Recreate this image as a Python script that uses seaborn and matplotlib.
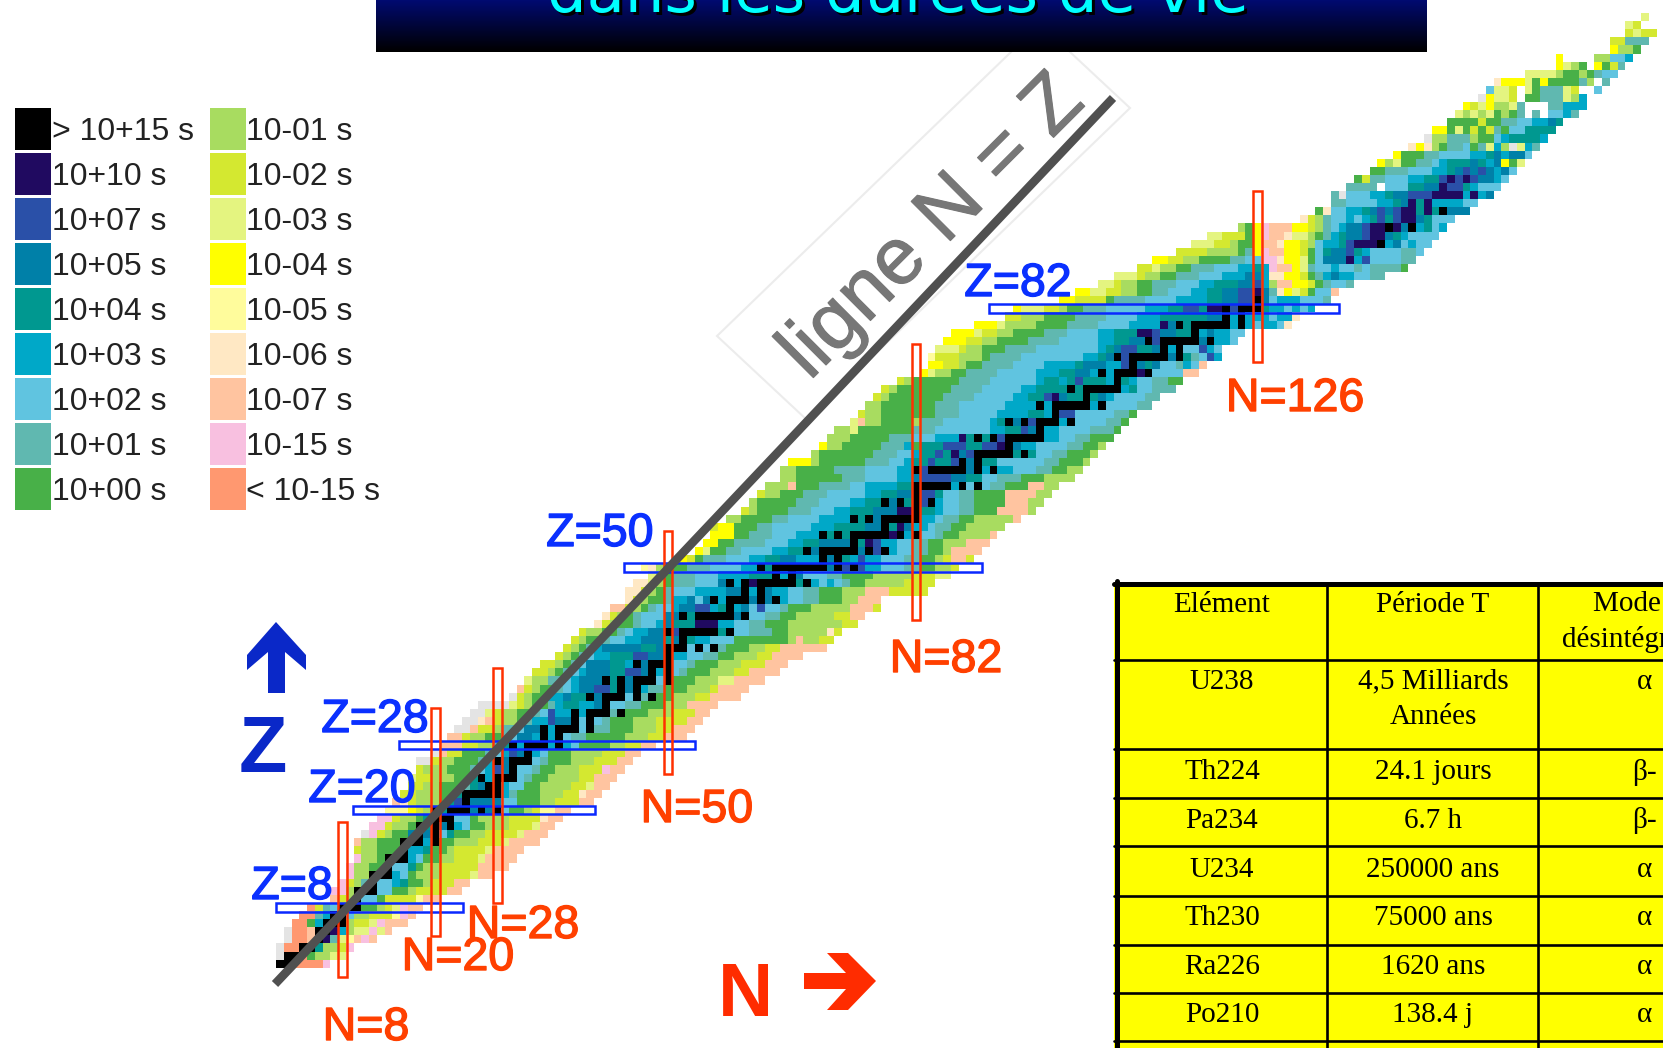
"""Chart of nuclides coloured by half-life, with the magic numbers marked."""

from __future__ import annotations

import re

import numpy as np
import pandas as pd
import seaborn as sns
from matplotlib import patheffects as pe
from matplotlib import pyplot as plt
from matplotlib.colors import LinearSegmentedColormap, ListedColormap
from matplotlib.patches import Polygon, Rectangle

plt.switch_backend("Agg")

WIDTH, HEIGHT = 1663, 1048

# one letter per half-life class, same order as the legend, s = grey (unknown)
CODES = "abcdefghijklmnopqrs"
CODE_COLORS = [
    "#000000", "#200a60", "#2a50a8", "#0080a8", "#009890", "#00a8c8",
    "#60c4e0", "#60b8b0", "#48b048", "#a8dc60", "#d4e830", "#e4f480",
    "#ffff00", "#fffc9c", "#ffe8c4", "#ffc4a0", "#f8c0e0", "#ff9870",
    "#e4e4e4",
]
LEGEND_LEFT = ["> 10+15 s", "10+10 s", "10+07 s", "10+05 s", "10+04 s",
               "10+03 s", "10+02 s", "10+01 s", "10+00 s"]
LEGEND_RIGHT = ["10-01 s", "10-02 s", "10-03 s", "10-04 s", "10-05 s",
                "10-06 s", "10-07 s", "10-15 s", "< 10-15 s"]

# Row for Z = 1, 2, ...: first N of the row, then class + last N of each run.
ROW_BANDS = [
    "0 a1 r5 q6",
    "0 s0 a2 r3 i4 j6 l8",
    "0 s0 r2 a4 e5 j7 k8 q9",
    "1 s1 r3 p4 b6 h7 l8 n9 p10 q11 p12",
    "1 s1 r3 p4 h5 e6 b7 f8 j9 l11 q12 l13 p14",
    "2 r3 i4 f5 e6 i7 b8 j9 k11 l12 q13 p16",
    "3 r4 h5 f6 d7 e8 g9 j11 k14 n15 q16 p17",
    "4 r4 k5 h6 g7 d8 e9 i12 j13 k14 l15 q16 p18",
    "7 p7 k8 j9 g12 i13 k17 n18 p20",
    "7 q8 j9 g14 i16 j17 k21 p23",
    "8 q8 k9 j10 h11 g14 f15 e16 i18 j19 k22 p24",
    "9 q9 j11 i12 f15 g16 i17 j20 k24 l25 p27",
    "9 q9 j11 i13 d14 g16 e17 i18 j20 k25 p29",
    "10 q10 j12 i14 f17 g18 i20 j22 k25 l26 p30",
    "10 k10 j12 i15 f18 e19 i21 j22 k26 l27 p31",
    "10 p10 j12 i15 d17 f19 g20 i22 j25 k28 l29 p33",
    "11 s11 q12 k13 j14 i16 d19 g21 e22 i24 j26 k30 l31 p34",
    "12 q13 k14 j16 i17 e19 d21 f23 g24 i26 j29 k32 l33 p35",
    "13 q14 k15 j17 i18 e19 c20 d21 f22 g24 i25 j29 k33 o34 p36",
    "14 n16 m17 k18 j19 e21 d28 g29 i31 j32 k33 n35 p37",
    "15 p15 o16 k17 j20 i21 e22 c23 d28 g30 i33 j35 k38 p40",
    "16 k17 j20 i22 e23 d24 f29 h30 i33 j36 k38 o39 p41",
    "17 k18 j20 i23 h24 e25 d26 c27 f29 g31 i33 j37 k39 l40 p42",
    "17 l17 k19 j22 i24 e25 c26 f27 d29 g31 h32 i34 j38 k40 p43",
    "18 k18 j21 i24 h25 g26 f27 c28 d29 g32 h33 i35 j38 k41 q42 p44",
    "18 s19 k20 j22 i25 h26 f27 c28 d29 e31 g33 h34 i37 j40 k43 p45",
    "20 s20 p21 k23 i26 h27 g28 f29 c30 d32 f33 g34 i37 j41 k44 p46",
    "21 p23 k25 j27 h28 e29 d30 f37 g38 i42 j44 k46 p48",
    "22 p23 k24 j26 i28 h29 g30 d32 f35 d36 g37 h39 i44 j47 k49 p52",
    "23 s24 p25 k27 j28 h30 g31 d33 f35 e38 g40 h42 i45 j48 k50 p53",
    "24 s25 o26 p27 k28 j30 i31 h32 f34 c35 d37 f38 g41 h42 i45 j48 k52 p54",
    "25 s26 l27 k28 j30 i32 h33 g34 c35 f37 d38 f40 g42 h44 i47 j50 k53 p55",
    "26 s29 l30 k31 j32 i34 h35 f36 e38 f40 d42 g44 h46 i49 j52 p56",
    "30 s30 k31 j32 i34 f36 d37 e39 d43 f44 g45 h47 i50 j53 k55 p59",
    "31 p31 k32 j33 i35 h36 g37 f38 d40 c42 e43 d45 f47 h49 i52 j55 k56 p60",
    "32 l32 j34 h36 g37 f38 d41 c42 e44 d46 f47 g49 h50 i53 j56 l58 p62",
    "33 k34 j35 i36 h37 g38 f39 d42 e44 c46 d47 f50 g51 h52 i55 j58 k60 p64",
    "34 k35 j36 i37 h38 g39 d42 e44 f46 d48 f50 g52 h53 i56 j59 k62 p65",
    "36 k36 j37 i38 h39 g40 f42 e45 c47 d49 e50 f52 g54 h56 i58 j61 k63 p67",
    "37 k37 j38 i39 h40 f41 d46 e48 d50 f52 g55 h57 i60 j62 k64 p70",
    "38 k38 j39 i41 h42 g44 f46 d49 e50 d51 b52 e53 f55 g58 i65 j66 p67 j69 k71",
    "39 k39 j41 i43 h44 g45 f47 d50 c51 d52 e57 f58 g60 h63 i65 j70 o71 k72",
    "41 o41 k42 j43 i45 h46 g48 f49 d50 e53 b56 f58 g60 h62 i65 j72 k74",
    "42 o42 k43 j44 i45 h46 g49 d51 e54 f57 d59 f60 g62 h64 i66 j71 k73 p75",
    "43 p44 k45 j46 i47 h48 g50 f51 d53 c55 f56 e57 f59 d60 g61 c62 g64 h65 i68 j73 p76 k77",
    "45 o45 k46 j47 i49 h50 f52 d53 g54 d56 f57 f59 e60 d64 f65 g67 h69 i72 j74 p77",
    "45 o46 k47 j48 i49 h50 g53 f57 d59 e60 f62 d63 f65 g67 h69 i72 j75 p78 k83",
    "46 o47 l48 j49 i50 h53 g56 d57 f59 e60 b61 f63 e67 f69 g70 f71 g72 h73 i75 j80 k84",
    "48 l48 j49 i50 h53 g56 f60 e63 f65 d67 g70 h72 i76 j81 k84 l86",
    "47 n47 o48 j49 i52 h55 g59 f61 e63 f65 d71 c75 f77 g80 h82 i84 j86 k87",
    "52 m52 k53 i54 h57 g60 f62 e64 d66 f69 c70 d71 e73 f74 c75 f77 g80 h82 i84 j85 k86 p88 k89",
    "54 m54 l55 i57 h59 g63 f65 e67 d70 f73 d75 c77 f79 g81 h83 i85 j86 p90",
    "55 m56 i58 h62 g65 f67 e69 d73 e75 b76 c77 f79 g81 h83 i85 j88 p91",
    "56 m58 i60 h63 g66 f70 e73 b79 f81 g84 h85 i87 j91 p92",
    "56 k56 m58 i61 h63 g68 f71 e75 d77 c78 e79 b80 d81 f83 g84 h86 i88 j93",
    "58 j59 i63 h65 g69 f73 e76 d78 e79 d80 b81 c82 f84 g85 h87 i89 j94 p95",
    "60 k60 j61 i65 h68 g71 f73 e76 d79 b81 c82 e84 f85 g87 h89 i92 p96 j97",
    "61 j61 i66 h69 g73 f75 e77 d79 e81 c83 f85 g87 h89 i93 p96 j98",
    "62 k62 j64 i67 h70 g75 f77 e79 d81 b82 c84 e85 g87 h89 i93 p97 j99",
    "63 j65 p66 i69 h73 g75 f79 e81 d82 c85 f87 g91 h93 i96 p98 j100",
    "65 j66 i72 h75 g79 f81 d82 c86 d88 e90 g92 h95 i98 j102",
    "65 j66 i71 h75 g79 f81 d82 c83 e85 c88 d90 f94 g97 h99 i101 j103",
    "66 m68 j69 i75 h78 g80 f81 e83 c84 e86 c87 d89 c90 e92 g98 h100 i103 j104",
    "69 j69 i76 h79 g81 f82 e84 c85 e86 b87 d88 c89 d91 e97 g99 h101 i104 j105",
    "70 m70 j72 i77 h80 f81 i82 e85 c88 e90 c92 b93 d95 f97 g101 h103 i105 j106",
    "71 j73 i78 h81 g84 f87 b88 e91 c95 d97 f100 g102 h104 i107",
    "72 j73 l74 i81 h84 g91 f93 e95 c96 d97 f100 g104 h107 i108",
    "74 l74 p75 j77 i81 j82 h85 g91 f92 e93 b94 d96 c98 f102 g106 h108 i109",
    "75 k75 j77 i84 h87 g92 f96 e98 f99 b100 c102 g107 h109 i110",
    "76 j77 i84 h87 g93 f97 e98 f105 g110 h112",
    "77 k77 j78 i85 h89 g94 f96 e98 c99 b100 d101 e103 b104 e105 d106 f107 g111 h113",
    "78 k78 j79 i86 h90 g95 f97 e101 b102 e103 c108 f109 e110 g112 h115",
    "80 k80 j81 i87 h91 g97 f98 e100 f101 e102 c103 e106 f107 e109 f110 g112 h114 i116",
    "83 m83 l84 j86 i88 h92 g97 f100 e102 d104 f105 c106 f107 d108 c110 b111 d112 g116 p118",
    "84 m85 k87 j88 i90 h94 g98 f102 e103 d106 f108 c109 d111 e112 d113 g115 h116 f117 g118 p119",
    "84 n84 k87 j90 i91 h95 g103 f105 e106 d107 b108 c110 d111 e113 d116 e117 h118 g119 c120 f121",
    "85 l87 k88 j90 i93 h97 g105 f106 e107 d108 c110 e112 d114 f116 g118 c119 f120 g121",
    "86 m88 k90 j92 i96 h100 g105 f107 e109 d111 c113 e115 d120 f122 g123",
    "87 m89 l90 k92 j94 i98 h101 g105 f107 e110 b112 c113 d115 e117 f119 d120 f122 g124",
    "90 m92 l93 j97 i101 h105 g109 f113 b114 d115 e117 f125 g126 f128 g129 o130",
    "94 k95 j98 i102 h106 g110 f113 e119 d121 b122 f127 g128 f130 o131",
    "95 m95 l98 k100 j101 i103 h106 g111 f114 e116 c118 e119 b121 d122 c123 e127 f129 g130 f131 g132 f133",
    "101 m102 k106 i107 h111 g115 f119 e121 d123 c125 b126 d127 g128 f131 g134 h135",
    "103 m104 l106 k108 j110 i112 h114 g117 f119 e121 d123 c125 b126 d127 h128 o129 m130 l131 k132 i133 g135 p136",
    "106 l107 k108 j110 i112 h115 g118 f120 e123 d125 c126 f127 j128 p130 m132 k133 i134 h135 g137 h138",
    "108 l110 k111 j113 i115 h118 g121 f124 d126 f127 o129 m131 k132 i133 h134 f135 d136 f138 g140 h142",
    "111 k112 l113 j115 i117 h120 g123 f125 e126 f127 q128 p130 m131 l132 h133 g135 f136 g138 h139 g140 h144 i145",
    "113 m114 k116 j118 i122 h124 g126 q128 o129 m131 l132 i133 g134 d137 b138 f139 c140 g144 h146",
    "116 k119 j123 i124 h125 m126 q127 p129 m131 k132 i133 g134 e135 d137 c138 e139 f140 g144 h146 g147",
    "118 l120 k122 j123 i125 m126 p128 o129 m131 k132 j133 g134 f136 e137 c138 b141 e142 f143 d144 g145 f146 g148",
    "120 l121 k124 i125 m126 q127 p129 o130 l132 j133 i134 h135 f136 e137 d139 c140 b142 d143 e144 f145 g149",
    "124 j124 i125 m126 q127 p130 m132 k133 j134 h135 g136 f137 d139 c140 b142 e143 b144 d145 e146 f147 e148 g149 f150",
    "132 o132 k133 j134 h135 g137 f138 g139 f140 e141 c142 e143 c144 b146 d147 e148 g151",
    "134 i134 o135 g137 f139 e140 d141 c142 d143 c144 b146 e147 b148 e149 d153",
    "136 h137 g141 f143 e144 d145 b146 e147 b148 f152 g154",
    "136 h136 s137 g140 f142 e143 d145 c148 b152 f153 b154 f155 d156",
    "138 h141 .142 g145 e147 d149 b150 c152 e153 f154 g157",
    "139 i139 k140 h142 g145 f147 e149 c150 b151 c152 b153 c154 d156 f157 g158",
    "141 i142 h145 g148 f150 e151 d152 c153 d154 c155 d156 f157 d158 g159",
    "142 m142 j143 l144 i146 h148 g149 f150 e153 d154 e155 f156 d157 m158 i159 l160",
    "144 m144 i147 h149 g153 f155 e156 d157 f158 d160 g161",
    "146 o146 m147 o148 j149 i150 h152 g153 i154 h155 l156 f157 j158 s159 l160 f161 h162",
    "148 s148 j150 h153 j154 i156 g157 f158 e162 f163",
    "149 m150 i151 l152 i153 k154 i155 k156 h157 i158 g160 e164",
    "151 i154 k155 i157 h159 g161 f163 d164 e165",
    "152 l152 j153 l154 j155 l156 i157 j158 i159 h160 .161 h162 .163 g165 f166 h167",
    "153 m153 k154 l155 m156 j158 l159 h160 .163 h165 f168",
    "155 s155 m156 l158 k159 .160 i162 h165 l166 j167 f168",
    "156 g156 l158 k159 .160 l161 i162 h165 l166 k167 .169 g170",
    "157 o157 m160 l161 i162 m163 i167 h168 j169 .170 h171",
    "161 l164 j165 i167 j168 i169 h170 g172",
    "165 m165 l166 j167 i168 .169 m170 i171 k172 h173",
    "165 m165 .169 j171 g173 f174",
    "172 m172 j174 i175",
    "172 k173 h176",
    "174 k174 l175 k177",
    "174 l174 k175",
    "176 l176",
]

# Neutron numbers of the black (> 10+15 s) cells, by Z.
STABLE_N = {
    1: [0, 1], 2: [1, 2], 3: [3, 4], 4: [5], 5: [5, 6], 6: [6, 7, 8], 7: [7, 8],
    8: [8, 9, 10], 9: [10], 10: [10, 11, 12], 11: [12], 12: [12, 13, 14],
    13: [14], 14: [14, 15, 16], 15: [16], 16: [16, 17, 18, 20], 17: [18, 20],
    18: [18, 20, 22], 19: [20, 21, 22], 20: [20, 22, 23, 24, 26, 28], 21: [24],
    22: [24, 25, 26, 27, 28], 23: [27, 28], 24: [26, 28, 29, 30], 25: [30],
    26: [28, 30, 31, 32], 27: [32], 28: [30, 32, 33, 34, 36], 29: [34, 36],
    30: [34, 36, 37, 38, 40], 31: [38, 40], 32: [38, 40, 41, 42, 44], 33: [42],
    34: [40, 42, 43, 44, 46, 48], 35: [44, 46], 36: [42, 44, 46, 47, 48, 50],
    37: [48, 50], 38: [46, 48, 49, 50], 39: [50], 40: [50, 51, 52, 54, 56],
    41: [52], 42: [50, 52, 53, 54, 55, 56, 58], 44: [52, 54, 55, 56, 57, 58, 60],
    45: [58], 46: [56, 58, 59, 60, 62, 64], 47: [60, 62],
    48: [58, 60, 62, 63, 64, 65, 66, 68], 49: [64, 66],
    50: [62, 64, 65, 66, 67, 68, 69, 70, 72, 74], 51: [70, 72],
    52: [68, 70, 71, 72, 73, 74, 76, 78], 53: [74],
    54: [70, 72, 74, 75, 76, 77, 78, 80, 82], 55: [78],
    56: [74, 76, 78, 79, 80, 81, 82], 57: [82], 58: [78, 80, 82, 84], 59: [82],
    60: [82, 83, 84, 85, 86, 88, 90], 62: [82, 84, 85, 86, 87, 88, 90, 92],
    63: [88, 90], 64: [90, 91, 92, 93, 94, 96], 65: [94],
    66: [90, 92, 94, 95, 96, 97, 98], 67: [98], 68: [94, 96, 98, 99, 100, 102],
    69: [100], 70: [98, 100, 101, 102, 103, 104, 106], 71: [104],
    72: [102, 104, 105, 106, 107, 108], 73: [108],
    74: [106, 108, 109, 110, 112], 75: [110], 76: [108, 110, 111, 112, 113, 114, 116],
    77: [114, 116], 78: [112, 114, 115, 116, 117, 118, 120], 79: [118],
    80: [116, 118, 119, 120, 121, 122, 124], 81: [122, 124],
    82: [122, 124, 125, 126], 83: [126], 90: [142], 92: [143, 146], 94: [150],
}

MAGIC_Z = ["Z=8", "Z=20", "Z=28", "Z=50", "Z=82"]
MAGIC_N = ["N=8", "N=20", "N=28", "N=50", "N=82", "N=126"]

TABLE_ELEMENT = ["Elément", "U238", "Th224", "Pa234", "U234", "Th230", "Ra226", "Po210"]
TABLE_PERIOD = ["Période T", "4,5 Milliards\nAnnées", "24.1 jours", "6.7 h",
                "250000 ans", "75000 ans", "1620 ans", "138.4 j"]
TABLE_MODE = ["Mode de\ndésintégration", "α", "β-", "β-", "α", "α", "α", "α"]

BANNER_TEXT = "dans les durées de vie"
LINE_TEXT = "ligne N = Z"


def build_grid() -> pd.DataFrame:
    """Turn the run-length rows into a Z by N table of class indices."""
    grid = np.full((len(ROW_BANDS) + 1, 178), np.nan)
    for z, row in enumerate(ROW_BANDS, start=1):
        parts = row.split()
        cursor = int(parts[0])
        for token in parts[1:]:
            code, last = re.fullmatch(r"(.)(\d+)", token).groups()
            if code != ".":
                grid[z, cursor : int(last) + 1] = CODES.index(code)
            cursor = max(cursor, int(last) + 1)
    for z, neutrons in STABLE_N.items():
        grid[z, neutrons] = 0
    return pd.DataFrame(grid)


def px_axes(fig, left, top, right, bottom):
    return fig.add_axes([left / WIDTH, 1 - bottom / HEIGHT,
                         (right - left) / WIDTH, (bottom - top) / HEIGHT])


def thicken(width, color):
    # the reference is an enlarged bitmap, its lettering reads heavier
    return [pe.withStroke(linewidth=width, foreground=color)]


def draw_chart(fig) -> None:
    # N = 0 is centred at x = 280, Z = 0 at y = 972; cells are 7.755 x 8.09 px
    ax = px_axes(fig, 276.1, 13.1, 1656.5, 975.8)
    sns.heatmap(build_grid(), cmap=ListedColormap(CODE_COLORS), vmin=-0.5, vmax=18.5,
                cbar=False, xticklabels=False, yticklabels=False, ax=ax)
    ax.invert_yaxis()
    ax.set_axis_off()


def draw_legend(fig) -> None:
    columns = [(13, 52, 52, LEGEND_LEFT, 0), (208, 247, 246, LEGEND_RIGHT, 9)]
    for left, right, text_x, labels, first in columns:
        ax = px_axes(fig, left, 106.5, right, 511.5)
        values = pd.DataFrame({"code": range(first, first + 9)})
        sns.heatmap(values, cmap=ListedColormap(CODE_COLORS), vmin=-0.5, vmax=18.5,
                    cbar=False, xticklabels=False, yticklabels=False,
                    linewidths=2.0, linecolor="white", ax=ax)
        ax.set_axis_off()
        for i, label in enumerate(labels):
            fig.text(text_x / WIDTH, 1 - (132 + 45 * i) / HEIGHT, label, color="#222222",
                     fontsize=23, family="Liberation Sans", va="center", ha="left")


def draw_overlay(ax) -> None:
    # faint box behind the rotated label, then the banner over its top corner
    ax.add_patch(Polygon([(717, 336), (1040, 24), (1130, 108), (807, 420)], closed=True,
                         facecolor="white", edgecolor="#ececec", linewidth=1.5, zorder=1))
    banner = LinearSegmentedColormap.from_list("banner", ["#000a70", "#000000"])
    ax.imshow(np.linspace(0, 1, 52)[:, None], cmap=banner, aspect="auto",
              extent=(376, 1427, 52, 0), zorder=2)
    for dx, color in [(2.5, "black"), (0, "#00ffff")]:
        ax.text(898 + dx, 12 + dx, BANNER_TEXT, color=color, fontsize=45, ha="center",
                va="baseline", family="DejaVu Sans", zorder=3)

    ax.text(948, 243, LINE_TEXT, color="#777777", fontsize=58, rotation=45,
            rotation_mode="anchor", ha="center", va="baseline",
            family="Liberation Sans", zorder=3, path_effects=thicken(0.8, "#777777"))

    n_bars = [(338, 822, 347, 977), (431, 708, 440, 936), (493, 668, 502, 903),
              (664, 531, 672, 774), (912, 344, 920, 620), (1253, 191, 1262, 362)]
    z_bars = [(276, 903, 463, 912), (353, 806, 595, 814), (399, 741, 695, 749),
              (624, 563, 982, 572), (989, 304, 1339, 313)]
    for bars, color in [(z_bars, "#0a28ff"), (n_bars, "#ff3000")]:
        for x0, y0, x1, y1 in bars:
            ax.add_patch(Rectangle((x0, y0), x1 - x0, y1 - y0, fill=False,
                                   edgecolor=color, linewidth=1.8, zorder=4))

    ax.plot([275, 1113], [984, 98], color="#505050", linewidth=6.2,
            solid_capstyle="butt", zorder=5)

    z_spots = [(292, 887), (362, 790), (375, 720), (600, 534), (1018, 284)]
    n_spots = [(366, 1028), (458, 958), (523, 926), (697, 810), (946, 660), (1295, 399)]
    for labels, spots, color in [(MAGIC_Z, z_spots, "#0a30ff"), (MAGIC_N, n_spots, "#ff4000")]:
        for label, (x, y) in zip(labels, spots):
            ax.text(x, y, label, color=color, fontsize=33.5, ha="center", va="center",
                    family="Liberation Sans", zorder=6, path_effects=thicken(1.0, color))

    ax.add_patch(Polygon([(276, 622), (306, 655), (306, 670), (285, 652), (285, 693),
                          (268, 693), (268, 652), (247, 670), (247, 655)],
                         closed=True, facecolor="#0a28c8", edgecolor="none", zorder=6))
    ax.text(263, 752, "Z", color="#0a28c8", fontsize=57, fontweight="bold", ha="center",
            va="center", family="Liberation Sans", zorder=6)
    ax.add_patch(Polygon([(804, 973), (846, 973), (827, 953), (848, 953), (876, 981),
                          (848, 1010), (827, 1010), (846, 989), (804, 989)],
                         closed=True, facecolor="#ff2c00", edgecolor="none", zorder=6))
    ax.text(745, 997, "N", color="#ff2c00", fontsize=55, fontweight="bold", ha="center",
            va="center", family="Liberation Sans", zorder=6)


def draw_table(ax) -> None:
    ax.add_patch(Rectangle((1114, 582), 560, 480, facecolor="#ffff00", edgecolor="none", zorder=7))
    ax.plot([1116.5, 1116.5], [581, 1048], color="black", linewidth=3.6, zorder=8)
    ax.plot([1114, 1663], [583.5, 583.5], color="black", linewidth=3.6, zorder=8)
    for y in [660, 749, 798, 846, 896, 945, 993, 1041]:
        ax.plot([1114, 1663], [y, y], color="black", linewidth=1.9, zorder=8)
    for x in [1327, 1538]:
        ax.plot([x, x], [583, 1048], color="black", linewidth=1.9, zorder=8)

    text_y = [622, 699, 772, 821, 870, 918, 967, 1015]
    for i, y in enumerate(text_y):
        # the two-line cells of the first rows share the same top line
        for x, cell in [(1222, TABLE_ELEMENT[i]), (1433, TABLE_PERIOD[i]), (1644, TABLE_MODE[i])]:
            cell_y = y
            if "\n" not in cell and i < 2:
                cell_y = {0: 605, 1: 682}[i]
            ax.text(x, cell_y, cell, color="black", fontsize=21, ha="center", va="center",
                    family="Liberation Serif", linespacing=1.45, zorder=9)


def main() -> None:
    sns.set_style("white")
    fig = plt.figure(figsize=(WIDTH / 100, HEIGHT / 100), dpi=100)
    draw_chart(fig)
    draw_legend(fig)

    overlay = fig.add_axes([0, 0, 1, 1])
    overlay.patch.set_alpha(0)
    draw_overlay(overlay)
    draw_table(overlay)
    overlay.set_xlim(0, WIDTH)
    overlay.set_ylim(HEIGHT, 0)
    overlay.set_axis_off()

    fig.savefig("out.png", dpi=100)
    plt.close(fig)


if __name__ == "__main__":
    main()
